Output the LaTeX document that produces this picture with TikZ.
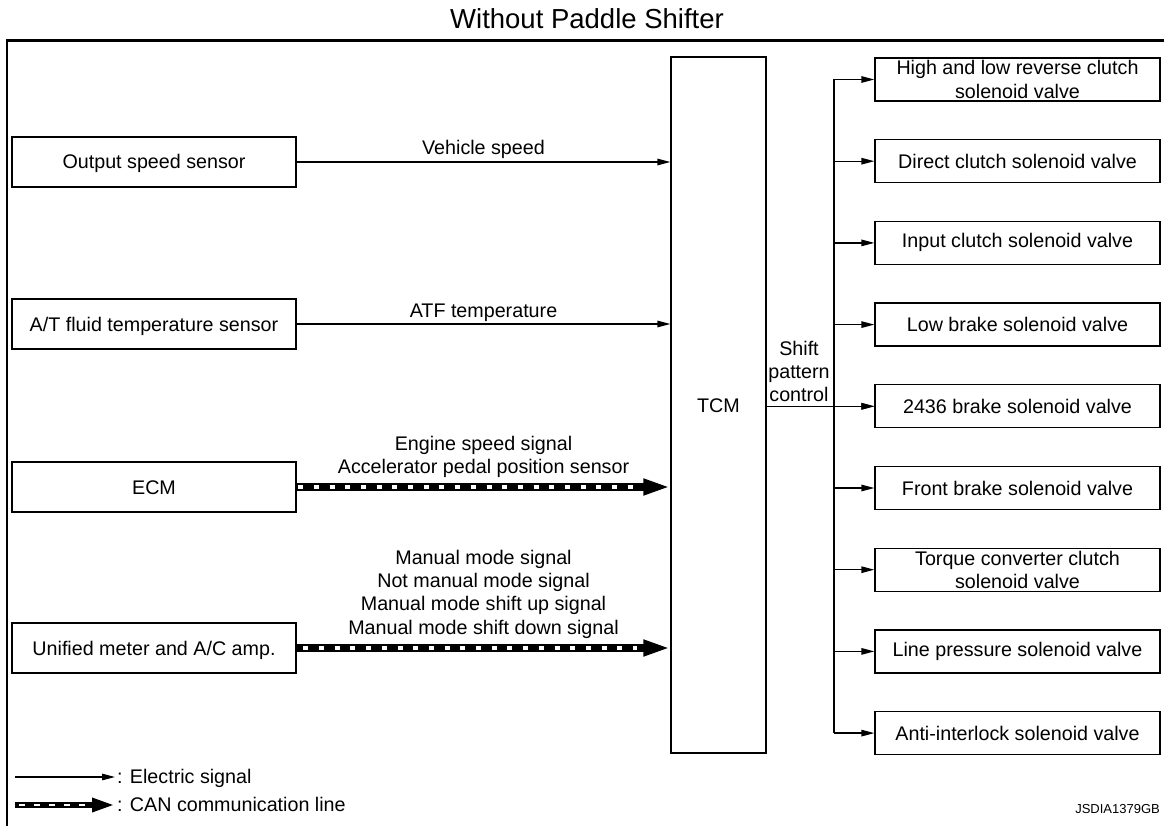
\documentclass[tikz,border=0pt]{standalone}
\usepackage{fontspec}
\setmainfont{Liberation Sans}
\usetikzlibrary{arrows.meta}
\begin{document}
\begin{tikzpicture}[x=1pt,y=-1pt,
  txt/.style={font=\fontsize{19.7}{23.3}\selectfont, inner sep=0pt},
  boxbase/.style={draw, line width=1.3pt, txt, align=center},
  oneline/.style={text height=14pt, text depth=0pt},
  leftbox/.style={boxbase, oneline, minimum width=284pt, minimum height=50pt},
  rightbox/.style={boxbase, minimum width=285pt, minimum height=43pt},
  elec/.style={line width=1.3pt, -{Triangle[length=13pt,width=6.5pt]}},
  canblack/.style={line width=8pt, -{Triangle[length=27pt,width=15pt]}},
  canwhite/.style={white, line width=4pt, dash pattern=on 5pt off 10.7pt},
  lbl/.style={txt, anchor=base}
]
\useasboundingbox (0,0) rectangle (1164,826);
% frame
\draw[line width=2.7pt] (7,826) -- (7,40.5) -- (1164,40.5);
\node[lbl, font=\fontsize{27.5}{30}\selectfont] (title) at (587,29) {Without Paddle Shifter};

% left boxes
\node[leftbox] (oss) at (154,162) {Output speed sensor};
\node[leftbox] (atf) at (154,324) {A/T fluid temperature sensor};
\node[leftbox] (ecm) at (154,487) {ECM};
\node[leftbox] (met) at (154,648) {Unified meter and A/C amp.};

% TCM
\node[boxbase, oneline, minimum width=95pt, minimum height=696pt] (tcm) at (718.5,405) {TCM};

% right boxes
\foreach \k/\t in {0/{High and low reverse clutch\\solenoid valve},
                   1/{Direct clutch solenoid valve},
                   2/{Input clutch solenoid valve},
                   3/{Low brake solenoid valve},
                   4/{2436 brake solenoid valve},
                   5/{Front brake solenoid valve},
                   6/{Torque converter clutch\\solenoid valve},
                   7/{Line pressure solenoid valve},
                   8/{Anti-interlock solenoid valve}}
  \node[rightbox] (r\k) at (1017.5,{79.5+81.7*\k}) {\t};

% electric signals to TCM
\draw[elec] (oss.east) -- (tcm.west |- oss.east);
\node[lbl] (l1) at (483.5,155) {Vehicle speed};
\draw[elec] (atf.east) -- (tcm.west |- atf.east);
\node[lbl] (l2) at (483.5,317) {ATF temperature};

% CAN lines
\draw[canblack] (ecm.east) -- (tcm.west |- ecm.east);
\draw[canwhite, shorten <=1.5pt, shorten >=33pt] (ecm.east) -- (tcm.west |- ecm.east);
\node[lbl] (l3) at (483.5,450.2) {Engine speed signal};
\node[lbl] (l4) at (483.5,473.5) {Accelerator pedal position sensor};

\draw[canblack] (met.east) -- (tcm.west |- met.east);
\draw[canwhite, dash phase=9pt, shorten >=33pt] (met.east) -- (tcm.west |- met.east);
\node[lbl] (l5) at (483.5,564) {Manual mode signal};
\node[lbl] (l6) at (483.5,587.4) {Not manual mode signal};
\node[lbl] (l7) at (483.5,610.8) {Manual mode shift up signal};
\node[lbl] (l8) at (483.5,634.2) {Manual mode shift down signal};

% output side
\coordinate (bus) at (834,0);
\draw[line width=1.3pt] (bus |- r0) -- (bus |- r8);
\foreach \k in {0,...,8}
  \draw[elec] (bus |- r\k) -- (r\k.west);
\draw[elec] (tcm.east |- r4) -- (r4.west);
\node[lbl] (s1) at (799,355) {Shift};
\node[lbl] (s2) at (799,378) {pattern};
\node[lbl] (s3) at (799,401) {control};

% legend
\coordinate (e1) at (15,777);
\coordinate (e2) at (115,777);
\draw[elec] (e1) -- (e2);
\node[txt, anchor=base west] (le) at (117,783) {: Electric signal};
\coordinate (c1) at (15,805);
\coordinate (c2) at (115,805);
\draw[line width=6pt, -{Triangle[length=23pt,width=13pt]}] (c1) -- (c2);
\draw[white, line width=2.6pt, dash pattern=on 6pt off 9pt, dash phase=-4pt, shorten >=25pt] (c1) -- (c2);
\node[txt, anchor=base west] (lc) at (117,811) {: CAN communication line};

\node[anchor=base east, inner sep=0pt, font=\fontsize{13}{15}\selectfont] (code) at (1160,813) {JSDIA1379GB};
\end{tikzpicture}
\end{document}
